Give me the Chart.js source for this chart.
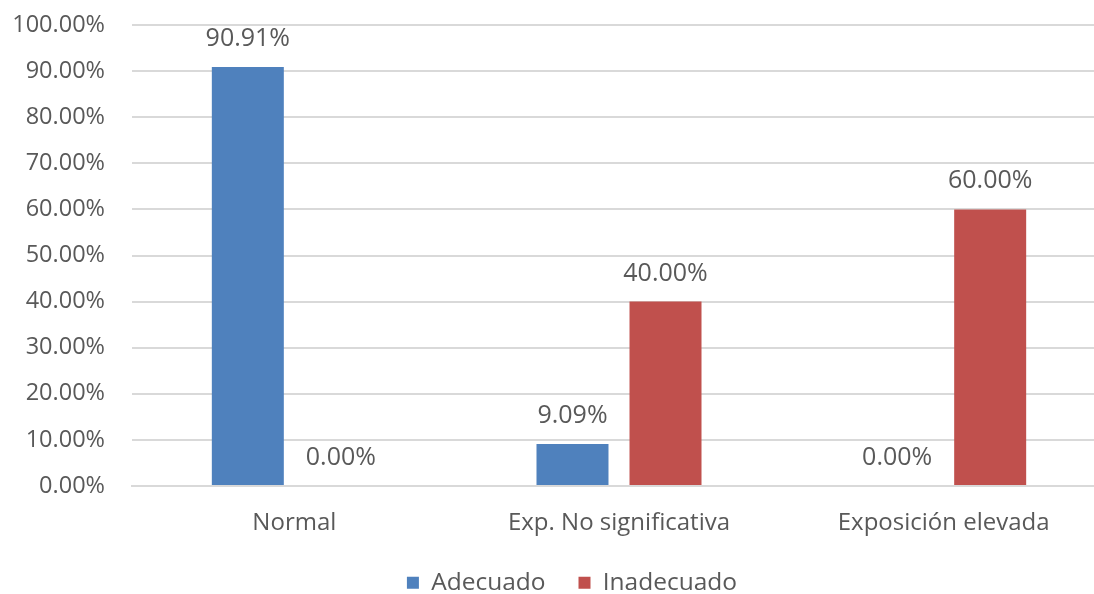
<!DOCTYPE html>
<html>
<head>
<meta charset="utf-8">
<script src="https://cdn.jsdelivr.net/npm/chart.js@4/dist/chart.umd.min.js"></script>
<style>
  html, body { margin: 0; padding: 0; background: #fff; overflow: hidden; }
  #wrap { width: 1140px; height: 605px; position: relative; }
</style>
</head>
<body>
<div id="wrap"><canvas id="c" width="1140" height="605"></canvas></div>
<script>
const categories = ['Normal', 'Exp. No significativa', 'Exposición elevada'];
const adecuado = [90.91, 9.09, 0.00];
const inadecuado = [0.00, 40.00, 60.00];
const yTicks = [0, 10, 20, 30, 40, 50, 60, 70, 80, 90, 100];

const FONT = '"Open Sans", "DejaVu Sans", sans-serif';
const TEXT = '#595959';
const GRID = '#d9d9d9';

const fmt = v => v.toFixed(2) + '%';

// Writes each bar's value just above its top
const valueLabels = {
  id: 'valueLabels',
  afterDatasetsDraw(chart) {
    const ctx = chart.ctx;
    ctx.save();
    ctx.font = '25px ' + FONT;
    ctx.fillStyle = TEXT;
    ctx.textAlign = 'center';
    ctx.textBaseline = 'alphabetic';
    chart.data.datasets.forEach((ds, i) => {
      chart.getDatasetMeta(i).data.forEach((bar, j) => {
        ctx.fillText(fmt(ds.data[j]), bar.x, bar.y - 21);
      });
    });
    ctx.restore();
  }
};

// Centres the legend under the whole chart width rather than the padded box
const legendShift = {
  id: 'legendShift',
  afterLayout(chart) {
    const lg = chart.legend;
    if (lg) { lg.left += 19; lg.right += 19; }
  }
};

new Chart(document.getElementById('c'), {
  type: 'bar',
  data: {
    labels: categories,
    datasets: [
      { label: 'Adecuado', data: adecuado, backgroundColor: '#4f81bd' },
      { label: 'Inadecuado', data: inadecuado, backgroundColor: '#c0504d' }
    ]
  },
  options: {
    responsive: false,
    animation: false,
    devicePixelRatio: 1,
    categoryPercentage: 0.573,
    barPercentage: 0.774,
    layout: { padding: { top: 25, right: 34, bottom: 0, left: 0 } },
    plugins: {
      tooltip: { enabled: false },
      legend: {
        position: 'bottom',
        labels: {
          font: { family: FONT, size: 24.5 },
          color: TEXT,
          boxWidth: 12,
          boxHeight: 12,
          padding: 33
        }
      }
    },
    scales: {
      x: {
        grid: { display: false },
        border: { color: GRID, width: 2 },
        ticks: { font: { family: FONT, size: 24 }, color: TEXT, padding: 14.5 },
        afterFit(s) { s.height = 51.5; }
      },
      y: {
        min: 0,
        max: 100,
        afterBuildTicks(s) { s.ticks = yTicks.map(v => ({ value: v })); },
        grid: { color: GRID, lineWidth: 2, drawTicks: true, tickLength: 27, tickColor: 'rgba(0,0,0,0)' },
        border: { display: false },
        ticks: {
          font: { family: FONT, size: 23.5 },
          color: TEXT,
          padding: 0,
          callback: v => fmt(v)
        },
        afterFit(s) { s.width = 132; }
      }
    }
  },
  plugins: [valueLabels, legendShift]
});
</script>
</body>
</html>
